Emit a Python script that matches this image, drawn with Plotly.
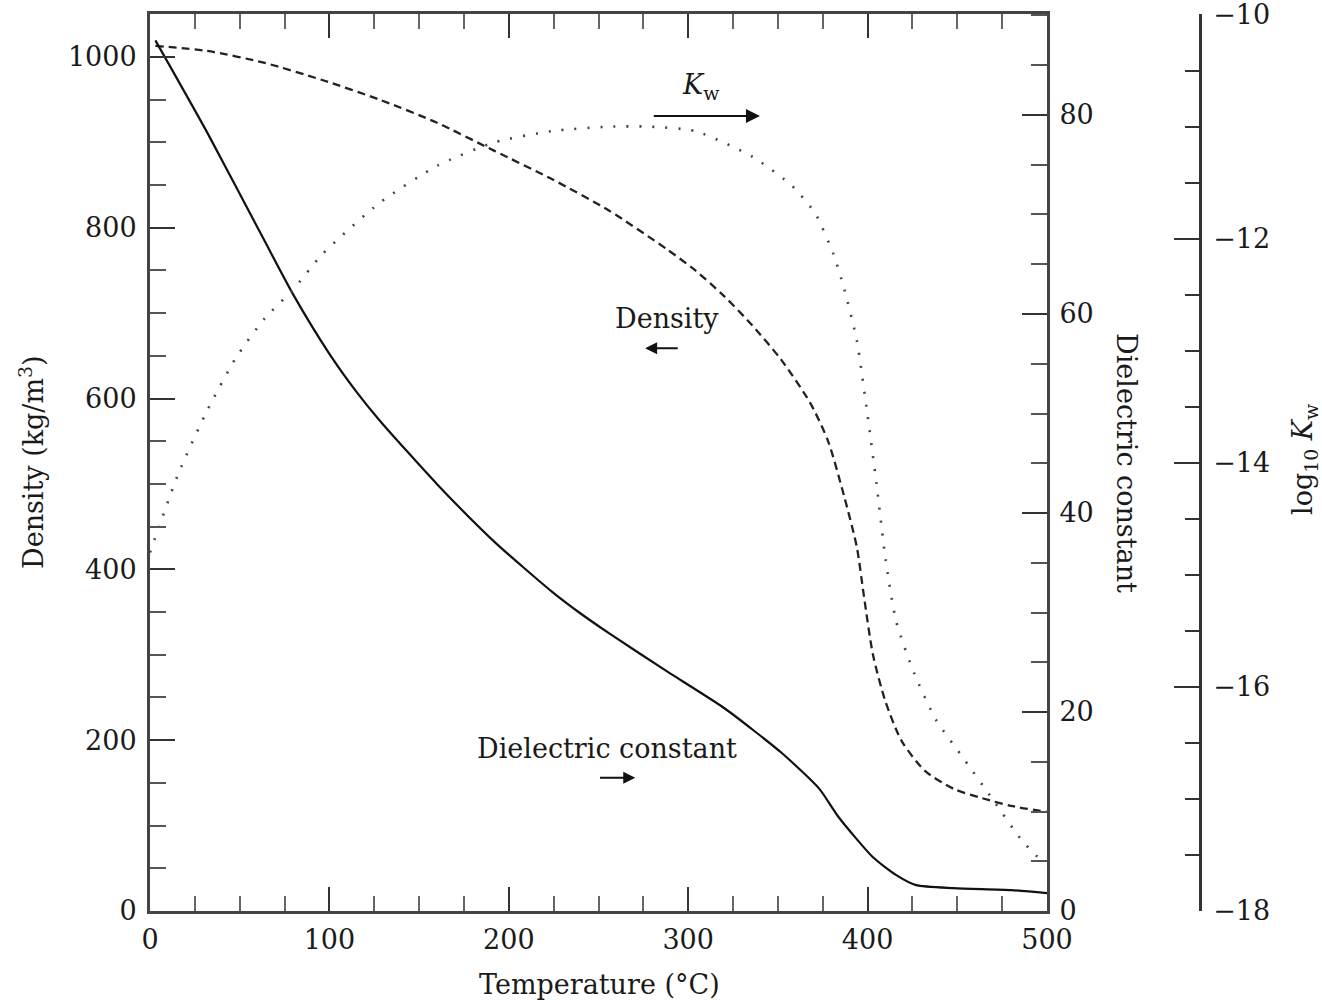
import plotly.graph_objects as go

# ---------------- data ----------------
temp_eps = [3, 32, 64, 80, 100, 115, 128, 160, 192, 224, 240, 256, 288, 320, 352, 373, 384, 403, 416, 427, 448, 480, 500]
dielectric = [87.5, 78.2, 67.3, 61.9, 56.0, 52.2, 49.3, 42.9, 37.1, 32.1, 29.9, 27.9, 24.1, 20.4, 15.9, 12.3, 9.4, 5.4, 3.6, 2.6, 2.3, 2.1, 1.8]

temp_rho = [3, 32, 64, 96, 128, 160, 192, 224, 256, 288, 304, 320, 336, 352, 368, 378, 387, 394, 398, 403, 410, 419, 432, 448, 464, 480, 500]
density = [1013, 1007, 993, 973, 950, 923, 890, 857, 820, 775, 750, 720, 685, 645, 595, 550, 485, 426, 368, 300, 245, 199, 164, 143, 132, 123, 116]

temp_kw = [0, 16, 32, 48, 64, 80, 96, 128, 160, 192, 224, 256, 278, 304, 336, 358, 371, 381, 387, 394, 400, 405, 410, 416, 426, 438, 454, 470, 486, 498]
log_kw = [-14.8, -14.09, -13.53, -13.06, -12.71, -12.45, -12.14, -11.68, -11.35, -11.14, -11.04, -11.0, -11.0, -11.04, -11.27,
          -11.53, -11.78, -12.14, -12.45, -12.91, -13.58, -14.19, -14.86, -15.42, -15.88, -16.29, -16.65, -17.01, -17.37, -17.57]

x_ticks = [0, 100, 200, 300, 400, 500]
rho_ticks = [0, 200, 400, 600, 800, 1000]
eps_ticks = [0, 20, 40, 60, 80]
kw_ticks = [-18, -16, -14, -12, -10]

FONT = "DejaVu Serif"
INK = "#1a1a1a"
AX = "#444444"

W, H = 1322, 1000
ML, MR, MT, MB = 150, 122, 14, 89
PW = W - ML - MR          # paper width (1050)
PH = H - MT - MB          # plot height (897)
XDOM = 897 / PW


def px_x(px):   # page pixel -> paper x
    return (px - ML) / PW


def px_y(py):   # page pixel -> paper y
    return (H - MB - py) / PH


fig = go.Figure()
fig.add_trace(go.Scatter(x=temp_rho, y=density, mode="lines", yaxis="y",
                         line=dict(color="#222222", width=2.3, dash="8px,5px", shape="spline", smoothing=0.7),
                         name="Density"))
fig.add_trace(go.Scatter(x=temp_eps, y=dielectric, mode="lines", yaxis="y2",
                         line=dict(color="#111111", width=2.2, shape="spline", smoothing=0.6),
                         name="Dielectric constant"))
fig.add_trace(go.Scatter(x=temp_kw, y=log_kw, mode="lines", yaxis="y3",
                         line=dict(color="#444444", width=2.6, dash="2px,11px", shape="spline", smoothing=0.6),
                         name="log Kw"))

tickfont = dict(family=FONT, size=27, color=INK)

fig.update_layout(
    width=W, height=H,
    margin=dict(l=ML, r=MR, t=MT, b=MB, autoexpand=False),
    paper_bgcolor="white", plot_bgcolor="white",
    showlegend=False,
    font=dict(family=FONT, color=INK),
    xaxis=dict(domain=[0, XDOM], range=[0, 500], tickvals=x_ticks,
               ticks="inside", ticklen=24, tickwidth=2, tickcolor="#333",
               minor=dict(dtick=25, tick0=0, ticks="inside", ticklen=15, tickwidth=2, tickcolor="#666"),
               showline=True, linecolor=AX, linewidth=3, mirror="ticks",
               showgrid=False, zeroline=False, tickfont=tickfont, ticklabelstandoff=3,
               ticklabeloverflow="allow"),
    yaxis=dict(range=[0, 1050.3], tickvals=rho_ticks, side="left",
               ticks="inside", ticklen=25, tickwidth=2, tickcolor="#333",
               minor=dict(dtick=50, tick0=0, ticks="inside", ticklen=16, tickwidth=2, tickcolor="#555"),
               showline=True, linecolor=AX, linewidth=3, mirror=False,
               showgrid=False, zeroline=False, tickfont=tickfont, ticklabelstandoff=5,
               ticklabeloverflow="allow"),
    yaxis2=dict(range=[0, 90.15], tickvals=eps_ticks, side="right", overlaying="y", anchor="x",
                ticks="inside", ticklen=25, tickwidth=2, tickcolor="#333",
                minor=dict(dtick=5, tick0=0, ticks="inside", ticklen=16, tickwidth=2, tickcolor="#555"),
                showline=True, linecolor=AX, linewidth=3,
                showgrid=False, zeroline=False, tickfont=tickfont, ticklabelstandoff=4,
                ticklabeloverflow="allow"),
    yaxis3=dict(range=[-18.0, -9.995], tickvals=kw_ticks, side="right", overlaying="y", anchor="free", position=1.0,
                ticks="inside", ticklen=25, tickwidth=2, tickcolor="#333",
                minor=dict(dtick=0.5, tick0=-18, ticks="inside", ticklen=14, tickwidth=2, tickcolor="#333"),
                showline=True, linecolor="#333", linewidth=2.5,
                showgrid=False, zeroline=False, tickfont=tickfont, ticklabelstandoff=6,
                ticklabeloverflow="allow"),
)

ann_font = dict(family=FONT, size=27, color=INK)
annotations = [
    # axis titles
    dict(text="Temperature (°C)", xref="paper", yref="paper", x=px_x(599), y=px_y(984),
         showarrow=False, font=ann_font, xanchor="center", yanchor="middle"),
    dict(text="Density (kg/m<sup>3</sup>)", xref="paper", yref="paper", x=px_x(32), y=px_y(462),
         showarrow=False, font=ann_font, textangle=-90, xanchor="center", yanchor="middle"),
    dict(text="Dielectric constant", xref="paper", yref="paper", x=px_x(1127), y=px_y(463),
         showarrow=False, font=ann_font, textangle=90, xanchor="center", yanchor="middle"),
    dict(text="log<sub>10</sub> <i>K</i><sub>w</sub>", xref="paper", yref="paper", x=px_x(1304),
         y=px_y(460), showarrow=False, font=ann_font, textangle=-90, xanchor="center", yanchor="middle"),
    # in-plot labels
    dict(text="<i>K</i><sub>w</sub>", xref="x", yref="y", x=307, y=965, showarrow=False, font=ann_font),
    dict(text="Density", xref="x", yref="y", x=288, y=694, showarrow=False, font=ann_font),
    dict(text="Dielectric constant", xref="x", yref="y", x=255, y=190, showarrow=False, font=ann_font),
    # arrows
    dict(text="", xref="x", yref="y", axref="x", ayref="y", x=340, y=931, ax=280, ay=931,
         showarrow=True, arrowhead=2, arrowsize=1.4, arrowwidth=2, arrowcolor="#111"),
    dict(text="", xref="x", yref="y", axref="x", ayref="y", x=276, y=659, ax=295, ay=659,
         showarrow=True, arrowhead=2, arrowsize=1.2, arrowwidth=2, arrowcolor="#111"),
    dict(text="", xref="x", yref="y", axref="x", ayref="y", x=270.5, y=156, ax=250, ay=156,
         showarrow=True, arrowhead=2, arrowsize=1.2, arrowwidth=2, arrowcolor="#111"),
]
fig.update_layout(annotations=annotations)

# remove the default 8px page margin so the figure sits at the page origin; hide the modebar
fig.write_html("out.html",
               config={"displayModeBar": False},
               post_script="document.body.style.margin='0px';document.body.style.padding='0px';")
